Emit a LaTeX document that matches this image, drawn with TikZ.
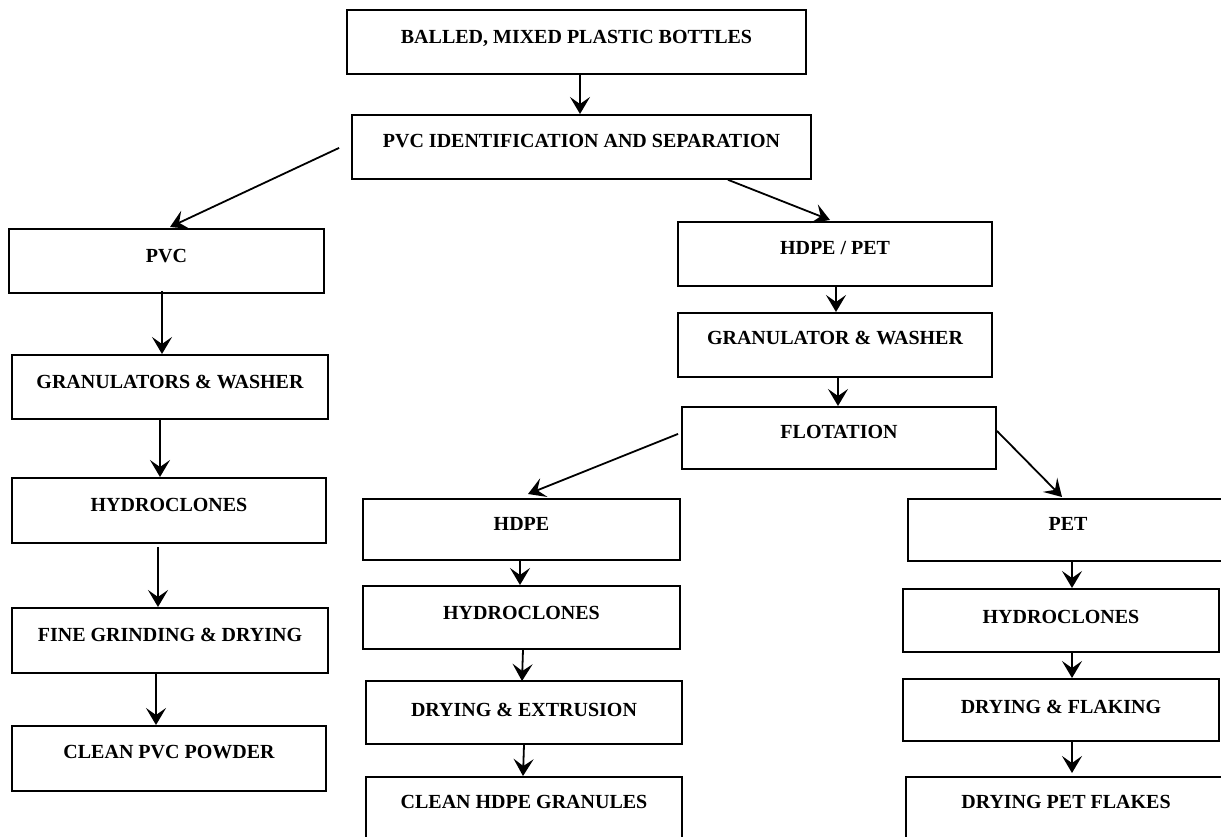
\documentclass[tikz,border=0pt]{standalone}
\usepackage{fontspec}
\setmainfont{Liberation Serif}
\usetikzlibrary{arrows.meta}
\begin{document}
\begin{tikzpicture}[x=1pt,y=-1pt,
  box/.style={draw, line width=1.8pt, inner sep=0pt, anchor=north, font=\bfseries\fontsize{20}{24}\selectfont},
  arr/.style={-{Stealth[length=17pt,width=20pt,inset=7pt]}, line width=1.8pt}]
\useasboundingbox (0,0) rectangle (1221,837);
\clip (0,0) rectangle (1221,837);
% top
\node[box, minimum width=459pt, text height=34pt, text depth=30pt] (bales) at (576.5,9) {BALLED, MIXED PLASTIC BOTTLES};
\node[box, minimum width=459pt, text height=33pt, text depth=31pt] (sep) at (581.5,114) {PVC IDENTIFICATION AND SEPARATION};
% left column
\node[box, minimum width=315pt, text height=34pt, text depth=30pt] (pvc) at (166.5,228) {PVC};
\node[box, minimum width=316pt, text height=34pt, text depth=30pt] (granL) at (170,354) {GRANULATORS \& WASHER};
\node[box, minimum width=314pt, text height=34pt, text depth=31pt] (hydroL) at (169,477) {HYDROCLONES};
\node[box, minimum width=316pt, text height=34pt, text depth=31pt] (fine) at (170,607) {FINE GRINDING \& DRYING};
\node[box, minimum width=314pt, text height=33pt, text depth=32pt] (cleanpvc) at (169,725) {CLEAN PVC POWDER};
% right upper
\node[box, minimum width=314pt, text height=33pt, text depth=31pt] (hdpepet) at (835,221) {HDPE / PET};
\node[box, minimum width=314pt, text height=32pt, text depth=32pt] (granR) at (835,312) {GRANULATOR \& WASHER};
\node[box, minimum width=314pt, text height=32pt, text depth=30pt] (flot) at (839,406) {FLOTATION};
% middle column
\node[box, minimum width=317pt, text height=32pt, text depth=29pt] (hdpe) at (521.5,498) {HDPE};
\node[box, minimum width=317pt, text height=34pt, text depth=29pt] (hydroM) at (521.5,585) {HYDROCLONES};
\node[box, minimum width=316pt, text height=36pt, text depth=27pt] (dryext) at (524,680) {DRYING \& EXTRUSION};
\node[box, minimum width=316pt, text height=32pt, text depth=60pt] (cleanhdpe) at (524,776) {CLEAN HDPE GRANULES};
% right column
\node[box, minimum width=320pt, text height=32pt, text depth=30pt] (pet) at (1068,498) {PET};
\node[box, minimum width=316pt, text height=35pt, text depth=28pt] (hydroR) at (1061,588) {HYDROCLONES};
\node[box, minimum width=316pt, text height=35pt, text depth=27pt] (dryflak) at (1061,678) {DRYING \& FLAKING};
\node[box, minimum width=320pt, text height=32pt, text depth=60pt] (petflakes) at (1066,776) {DRYING PET FLAKES};
% connectors
\draw[arr] ([xshift=3.5pt]bales.south) -- ([xshift=-1.5pt]sep.north);
\draw[arr] ([xshift=-12pt,yshift=-1pt]sep.west) -- ([xshift=3.5pt,yshift=1pt]pvc.north);
\draw[arr] ([xshift=146.5pt]sep.south) -- ([xshift=-5pt,yshift=1pt]hdpepet.north);
\draw[arr] ([xshift=-4.5pt,yshift=3pt]pvc.south) -- ([xshift=-8pt]granL.north);
\draw[arr] ([xshift=-10pt]granL.south) -- ([xshift=-9pt]hydroL.north);
\draw[arr] ([xshift=-11pt,yshift=-3pt]hydroL.south) -- ([xshift=-12pt]fine.north);
\draw[arr] ([xshift=-14pt]fine.south) -- ([xshift=-13pt]cleanpvc.north);
\draw[arr] ([xshift=1pt]hdpepet.south) -- ([xshift=1pt]granR.north);
\draw[arr] ([xshift=3pt]granR.south) -- ([xshift=-1pt]flot.north);
\draw[arr] ([xshift=-3pt,yshift=4pt]flot.west) -- ([xshift=6.5pt,yshift=4pt]hdpe.north);
\draw[arr] ([yshift=7pt]flot.east) -- ([xshift=-6pt,yshift=1pt]pet.north);
\draw[arr] ([xshift=-1.5pt]hdpe.south) -- ([xshift=-1.5pt]hydroM.north);
\draw[arr] ([xshift=1.5pt]hydroM.south) -- ([xshift=-2pt,yshift=-1pt]dryext.north);
\draw[arr] (dryext.south) -- ([xshift=-1pt]cleanhdpe.north);
\draw[arr] ([xshift=4pt]pet.south) -- ([xshift=11pt]hydroR.north);
\draw[arr] ([xshift=11pt]hydroR.south) -- ([xshift=11pt]dryflak.north);
\draw[arr] ([xshift=11pt]dryflak.south) -- ([xshift=6pt,yshift=3pt]petflakes.north);
\end{tikzpicture}
\end{document}
